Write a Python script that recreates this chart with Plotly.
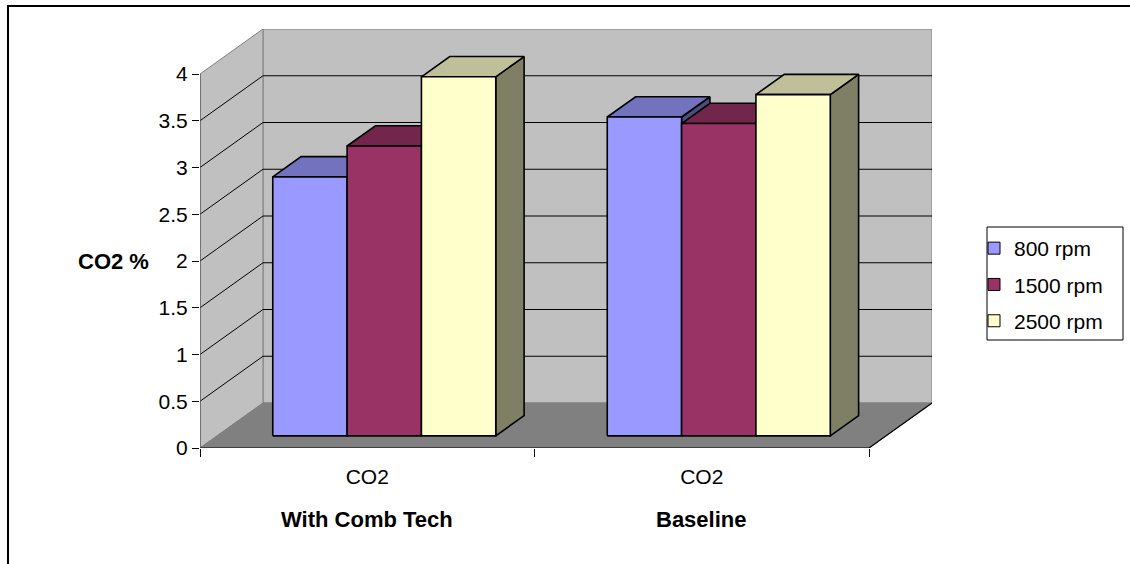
import plotly.graph_objects as go

# ---- data ----
groups = ["With Comb Tech", "Baseline"]
category_labels = ["CO2", "CO2"]
series_names = ["800 rpm", "1500 rpm", "2500 rpm"]
rpm_800 = [2.77, 3.41]
rpm_1500 = [3.10, 3.34]
rpm_2500 = [3.84, 3.65]
y_ticks = [0, 0.5, 1, 1.5, 2, 2.5, 3, 3.5, 4]
y_tick_text = ["0", "0.5", "1", "1.5", "2", "2.5", "3", "3.5", "4"]

series_values = [rpm_800, rpm_1500, rpm_2500]
front_colors = ["#9999FF", "#993366", "#FFFFCC"]


def shade(hex_color, k):
    r, g, b = (int(hex_color[i:i + 2], 16) for i in (1, 3, 5))
    return "#{:02X}{:02X}{:02X}".format(int(r * k), int(g * k), int(b * k))


top_colors = [shade(c, 0.75) for c in front_colors]
side_colors = [shade(c, 0.5) for c in front_colors]

# ---- oblique 3-D projection parameters ----
DX = 0.1883          # horizontal shift of the back plane (category units)
DY = 0.4813          # vertical shift of the back plane (value units)
Y_MAX = 4
N_CAT = len(groups)
BAR_W = 1 / 4.5      # gap width 150 %
GAP = 0.75 * BAR_W
F0, F1 = 0.27, 0.72  # bar depth range within the floor

FONT = "Arial, Liberation Sans, sans-serif"
FS = 21
FS_BOLD = 22

fig = go.Figure()


def poly(xs, ys, fill, line_color, width=1.0):
    fig.add_trace(go.Scatter(
        x=list(xs) + [xs[0]], y=list(ys) + [ys[0]],
        mode="lines", fill="toself" if fill else None, fillcolor=fill,
        line=dict(color=line_color, width=width),
        showlegend=False, hoverinfo="skip"))


def line(xs, ys, color, width=1.0):
    fig.add_trace(go.Scatter(
        x=xs, y=ys, mode="lines", line=dict(color=color, width=width),
        showlegend=False, hoverinfo="skip"))


# walls and floor
poly([DX, N_CAT + DX, N_CAT + DX, DX], [DY, DY, Y_MAX + DY, Y_MAX + DY], "#C0C0C0", "#808080")
poly([0, DX, DX, 0], [0, DY, Y_MAX + DY, Y_MAX], "#C0C0C0", "#808080")
poly([0, N_CAT, N_CAT + DX, DX], [0, 0, DY, DY], "#808080", "#808080")

# gridlines on side and back walls
for v in y_ticks[1:-1]:
    line([0, DX, N_CAT + DX], [v, v + DY, v + DY], "black", 1)

# front floor edges and value axis
line([0, N_CAT, N_CAT + DX], [0, 0, DY], "black", 1.2)
line([0, 0], [0, Y_MAX], "#555555", 1.2)

# bars: right side, top, front face for each, drawn left to right
for g in range(N_CAT):
    for s, vals in enumerate(series_values):
        v = vals[g]
        x0 = g + GAP + s * BAR_W
        x1 = x0 + BAR_W
        a0x, a0y = F0 * DX, F0 * DY
        a1x, a1y = F1 * DX, F1 * DY
        poly([x1 + a0x, x1 + a1x, x1 + a1x, x1 + a0x],
             [a0y, a1y, v + a1y, v + a0y], side_colors[s], "black", 1.6)
        poly([x0 + a0x, x1 + a0x, x1 + a1x, x0 + a1x],
             [v + a0y, v + a0y, v + a1y, v + a1y], top_colors[s], "black", 1.6)
        poly([x0 + a0x, x1 + a0x, x1 + a0x, x0 + a0x],
             [a0y, a0y, v + a0y, v + a0y], front_colors[s], "black", 1.6)

# legend entries
for s, name in enumerate(series_names):
    fig.add_trace(go.Bar(
        x=[None], y=[None], name=name, legendgroup=name,
        marker=dict(color=front_colors[s], line=dict(color="black", width=1))))

PX_W, PX_H = 732, 419
L, T = 200, 29


def px_x(p):
    return (p - L) / PX_W


def px_y(p):
    return (T + PX_H - p) / PX_H


# group labels under categories
for g, name in enumerate(groups):
    fig.add_annotation(x=g + 0.5, xref="x", y=px_y(519), yref="paper",
                       xanchor="center", yanchor="middle",
                       text="<b>" + name + "</b>", showarrow=False,
                       font=dict(family=FONT, size=FS_BOLD, color="black"))

fig.add_annotation(x=px_x(113), xref="paper", y=px_y(261), yref="paper",
                   xanchor="center", yanchor="middle", text="<b>CO2 %</b>",
                   showarrow=False, font=dict(family=FONT, size=FS_BOLD, color="black"))

# chart border
fig.add_shape(type="rect", xref="paper", yref="paper",
              x0=px_x(8), x1=px_x(1170), y0=px_y(6), y1=px_y(600),
              line=dict(color="black", width=2))

# legend frame
fig.add_shape(type="rect", xref="paper", yref="paper",
              x0=px_x(987), x1=px_x(1123), y0=px_y(227), y1=px_y(340),
              line=dict(color="black", width=1), fillcolor="white", layer="below")

fig.update_layout(
    width=1130, height=564,
    margin=dict(l=L, r=1130 - L - PX_W, t=T, b=564 - T - PX_H),
    paper_bgcolor="white", plot_bgcolor="white",
    font=dict(family=FONT, size=FS, color="black"),
    barmode="group",
    xaxis=dict(range=[0, N_CAT + DX], showgrid=False, zeroline=False, showline=False,
               tickvals=[0.5, 1.5], ticktext=category_labels, ticks="",
               ticklabelstandoff=14,
               minor=dict(tickvals=[0, 1, 2], ticks="outside", ticklen=8,
                          tickcolor="black", tickwidth=1),
               tickfont=dict(size=FS), fixedrange=True),
    yaxis=dict(range=[0, Y_MAX + DY], showgrid=False, zeroline=False, showline=False,
               tickvals=y_ticks, ticktext=y_tick_text, ticks="outside", ticklen=7,
               tickcolor="black", tickwidth=1, tickfont=dict(size=FS), fixedrange=True),
    legend=dict(x=px_x(974), y=px_y(228), xanchor="left", yanchor="top",
                bgcolor="rgba(0,0,0,0)", borderwidth=0,
                font=dict(family=FONT, size=FS), tracegroupgap=6),
    showlegend=True,
)

fig.write_html("out.html")
